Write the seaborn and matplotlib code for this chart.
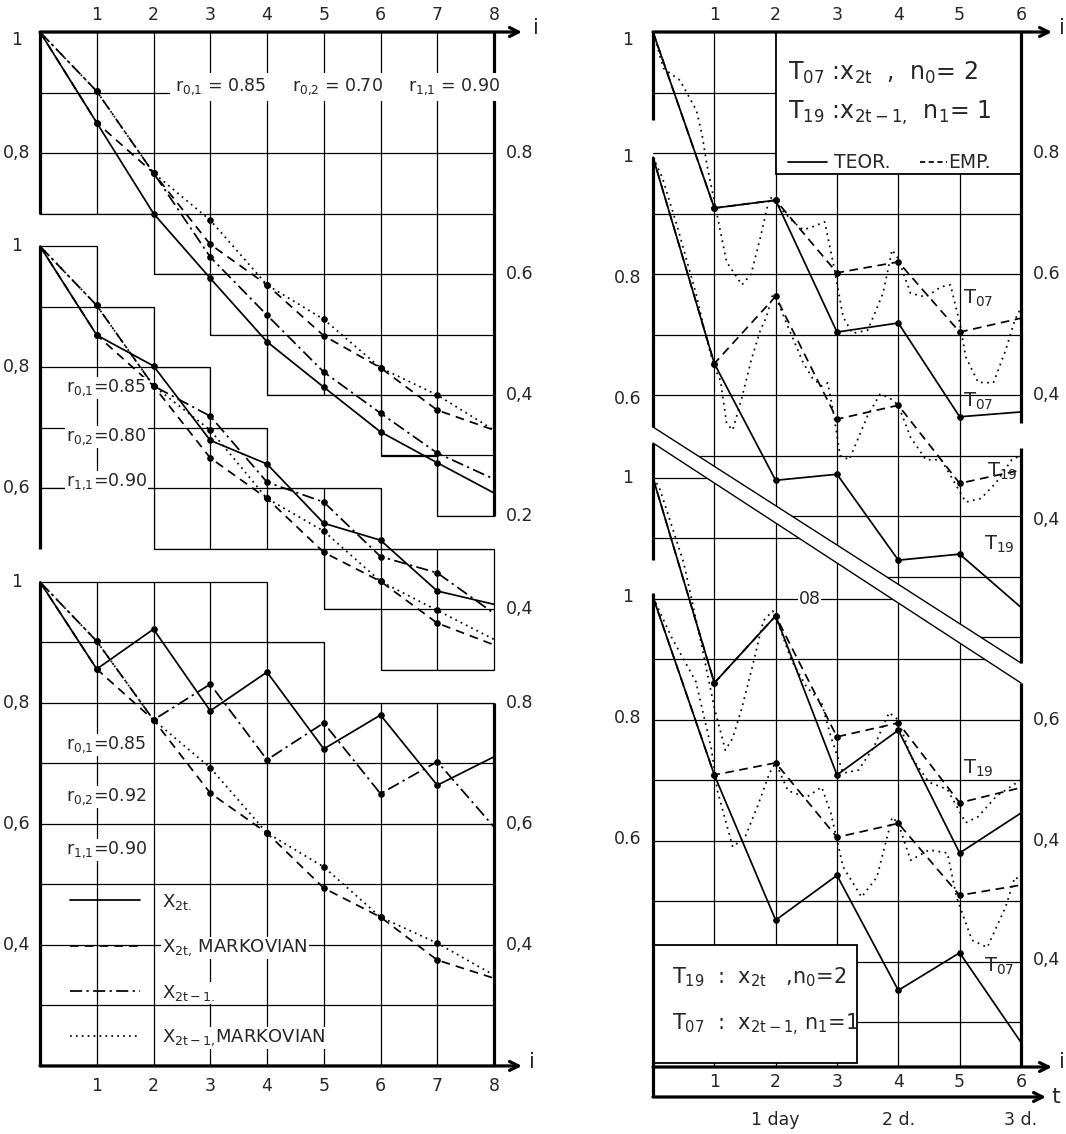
import numpy as np
import matplotlib
matplotlib.use("Agg")
import matplotlib.pyplot as plt
from matplotlib.patches import Polygon, Rectangle
import seaborn as sns

sns.set_style("white")
plt.rcParams['font.family'] = ['DejaVu Sans']
plt.rcParams['mathtext.fontset'] = 'dejavusans'

# ---------------- left chart: i = 0..8, three blocks (r02 = 0.70 / 0.80 / 0.92)
steps = list(range(9))

top_x2t = [1, 0.850, 0.700, 0.593, 0.488, 0.413, 0.339, 0.288, 0.238]
top_x2t_m = [1, 0.850, 0.767, 0.649, 0.582, 0.498, 0.445, 0.375, 0.342]
top_x2t1 = [1, 0.902, 0.767, 0.628, 0.532, 0.438, 0.370, 0.304, 0.261]
top_x2t1_m = [1, 0.902, 0.767, 0.689, 0.582, 0.525, 0.445, 0.400, 0.342]

mid_x2t = [1, 0.853, 0.802, 0.679, 0.640, 0.542, 0.514, 0.430, 0.408]
mid_x2t_m = [1, 0.853, 0.769, 0.650, 0.583, 0.494, 0.446, 0.377, 0.341]
mid_x2t1 = [1, 0.902, 0.769, 0.719, 0.610, 0.577, 0.487, 0.460, 0.393]
mid_x2t1_m = [1, 0.902, 0.769, 0.696, 0.583, 0.529, 0.446, 0.398, 0.350]

low_x2t = [1, 0.856, 0.922, 0.787, 0.851, 0.724, 0.780, 0.664, 0.711]
low_x2t_m = [1, 0.856, 0.772, 0.651, 0.585, 0.494, 0.446, 0.375, 0.345]
low_x2t1 = [1, 0.902, 0.772, 0.831, 0.706, 0.767, 0.650, 0.703, 0.595]
low_x2t1_m = [1, 0.902, 0.772, 0.693, 0.585, 0.529, 0.446, 0.403, 0.350]

r_labels = {
    'top': ["r$_{0{,}1}$ = 0.85", "r$_{0{,}2}$ = 0.70", "r$_{1{,}1}$ = 0.90"],
    'mid': ["r$_{0{,}1}$=0.85", "r$_{0{,}2}$=0.80", "r$_{1{,}1}$=0.90"],
    'low': ["r$_{0{,}1}$=0.85", "r$_{0{,}2}$=0.92", "r$_{1{,}1}$=0.90"],
}
legend_labels = ["X$_{\\mathrm{2t.}}$", "X$_{\\mathrm{2t{,}}}$ MARKOVIAN",
                 "X$_{\\mathrm{2t-1.}}$", "X$_{\\mathrm{2t-1{,}}}$MARKOVIAN"]

lt_text = ["1", "0,8", "1", "0,8", "0,6", "1", "0,8", "0,6", "0,4"]
lt_value = [1, 0.8, 1, 0.8, 0.6, 1, 0.8, 0.6, 0.4]
lt_block = ['top', 'top', 'mid', 'mid', 'mid', 'low', 'low', 'low', 'low']
rt_text = ["0.8", "0.6", "0,4", "0.2", "0,4", "0.8", "0,6", "0,4"]
rt_value = [0.8, 0.6, 0.4, 0.2, 0.4, 0.8, 0.6, 0.4]
rt_block = ['top', 'top', 'top', 'top', 'mid', 'low', 'low', 'low']

# ---------------- right chart: i = 0..6 (t in days), four curve groups
days = list(range(7))

a1_teor = [1, 0.709, 0.722, 0.504, 0.519, 0.364, 0.372]
a1_emp = [1, 0.709, 0.722, 0.602, 0.620, 0.504, 0.527]
a1_obs_t = [0, 0.17, 0.44, 0.71, 0.8, 0.88, 1.0, 1.2, 1.45, 1.6, 1.75, 1.9, 2.0, 2.1, 2.3,
            2.45, 2.6, 2.8, 2.95, 3.1, 3.25, 3.5, 3.75, 3.9, 4.0, 4.2, 4.45, 4.7, 4.85,
            5.0, 5.1, 5.3, 5.55, 5.75, 5.9, 6.0]
a1_obs_v = [1, 0.94, 0.92, 0.87, 0.83, 0.78, 0.72, 0.62, 0.582, 0.60, 0.66, 0.727, 0.722,
            0.706, 0.685, 0.673, 0.678, 0.686, 0.612, 0.529, 0.502, 0.507, 0.568, 0.64,
            0.625, 0.568, 0.562, 0.579, 0.582, 0.52, 0.463, 0.421, 0.42, 0.474, 0.524, 0.544]

a2_teor = [1, 0.659, 0.466, 0.476, 0.334, 0.344, 0.256]
a2_emp = [1, 0.659, 0.770, 0.567, 0.590, 0.461, 0.483]
a2_obs_t = [0, 0.15, 0.4, 0.7, 0.85, 1.0, 1.1, 1.2, 1.3, 1.45, 1.6, 1.75, 1.85, 1.95, 2.0,
            2.2, 2.45, 2.6, 2.75, 2.85, 2.95, 3.05, 3.2, 3.5, 3.7, 3.85, 4.0, 4.2, 4.45,
            4.7, 4.85, 5.1, 5.35, 5.6, 5.85, 6.0]
a2_obs_v = [1, 0.967, 0.884, 0.775, 0.709, 0.653, 0.631, 0.56, 0.549, 0.603, 0.664, 0.714,
            0.736, 0.772, 0.770, 0.72, 0.66, 0.635, 0.622, 0.627, 0.573, 0.507, 0.50,
            0.573, 0.608, 0.603, 0.59, 0.537, 0.50, 0.50, 0.474, 0.43, 0.436, 0.463, 0.50, 0.507]

b1_teor = [1, 0.661, 0.772, 0.509, 0.583, 0.380, 0.446]
b1_emp = [1, 0.661, 0.772, 0.572, 0.595, 0.463, 0.488]
b1_obs_t = [0, 0.1, 0.5, 0.8, 1.0, 1.18, 1.3, 1.45, 1.6, 1.8, 1.95, 2.0, 2.25, 2.5, 2.75,
            2.9, 3.1, 3.35, 3.6, 3.85, 4.0, 4.2, 4.5, 4.8, 5.1, 5.3, 5.6, 6.0]
b1_obs_v = [1, 0.985, 0.86, 0.72, 0.62, 0.55, 0.57, 0.62, 0.68, 0.764, 0.78, 0.772, 0.70,
            0.655, 0.628, 0.572, 0.512, 0.517, 0.555, 0.612, 0.60, 0.54, 0.497, 0.485,
            0.43, 0.44, 0.474, 0.501]

b2_teor = [1, 0.706, 0.466, 0.540, 0.350, 0.412, 0.264]
b2_emp = [1, 0.706, 0.726, 0.603, 0.626, 0.507, 0.524]
b2_obs_t = [0, 0.3, 0.7, 0.95, 1.05, 1.3, 1.5, 1.7, 1.9, 2.0, 2.2, 2.5, 2.75, 2.9, 3.1,
            3.4, 3.65, 3.9, 4.0, 4.2, 4.5, 4.8, 4.95, 5.2, 5.45, 5.75, 5.9, 6.0]
b2_obs_v = [1, 0.934, 0.86, 0.75, 0.68, 0.587, 0.603, 0.653, 0.709, 0.726, 0.68, 0.669,
            0.686, 0.643, 0.554, 0.504, 0.537, 0.636, 0.626, 0.565, 0.582, 0.577, 0.504,
            0.433, 0.421, 0.488, 0.537, 0.532]

rl_text = ["1", "1", "0.8", "0.6", "1", "1", "0.8", "0.6"]
rl_value = [1, 1, 0.8, 0.6, 1, 1, 0.8, 0.6]
rl_block = ['a1', 'a2', 'a2', 'a2', 'b1', 'b2', 'b2', 'b2']
rr_text = ["0.8", "0.6", "0,4", "0,4", "0,6", "0,4", "0,4"]
rr_value = [0.8, 0.6, 0.4, 0.4, 0.6, 0.4, 0.4]
rr_block = ['a1', 'a1', 'a1', 'a2', 'b1', 'b1', 'b2']

curve_tags = [("T$_{07}$", 'a1', 5.05, 0.56), ("T$_{07}$", 'a1', 5.05, 0.39),
              ("T$_{19}$", 'a2', 5.45, 0.48), ("T$_{19}$", 'a2', 5.4, 0.36),
              ("T$_{19}$", 'b1', 5.05, 0.52), ("T$_{07}$", 'b2', 5.4, 0.39)]

# ---------------- layout (pixels of the 1066x1134 picture)
W, H = 1066, 1134
PX = 605.0                      # pixels per unit of value
OFF_L = {'top': 0.0, 'mid': 0.354, 'low': 0.909}
OFF_R = {'a1': 0.0, 'a2': 0.207, 'b1': 0.737, 'b2': 0.934}
TOP_NUDGE = 8 / PX              # the topmost "1" labels sit a little under the axis


def lx(px):
    return (px - 40) / 56.75


def rx(px):
    return (px - 653) / 61.33


def gy(py):
    return 1 - (py - 32) / PX


K = 'black'
GRID_LW, THICK, CURVE_LW = 0.9, 2.3, 1.25
LS_LEFT = ['-', (0, (5, 3.5)), (0, (7, 2.5, 1.3, 2.5)), (0, (1, 2.4))]
LS_TEOR, LS_EMP, LS_OBS = '-', (0, (5, 3.2)), (0, (1, 2.6))


def curve(ax, x, v, off, ls, marks=None):
    sns.lineplot(x=np.asarray(x, float), y=np.asarray(v, float) - off, ax=ax,
                 color=K, lw=CURVE_LW, linestyle=ls,
                 marker='o' if marks else None, markevery=marks,
                 ms=4, mec=K, mfc=K, zorder=5)


def grid_block(ax, outline, xs, ys, edge=True):
    patch = Polygon(outline, closed=True, fc='none',
                    ec=K if edge else 'none', lw=GRID_LW, zorder=2)
    ax.add_patch(patch)
    xa = [p[0] for p in outline]
    ya = [p[1] for p in outline]
    for x in xs:
        ln, = ax.plot([x, x], [min(ya), max(ya)], color=K, lw=GRID_LW, zorder=2)
        ln.set_clip_path(patch)
    for y in ys:
        ln, = ax.plot([min(xa), max(xa)], [y, y], color=K, lw=GRID_LW, zorder=2)
        ln.set_clip_path(patch)


def put(ax, x, y, s, size=12, ha='center', va='center', box=False, pad=0.6):
    kw = {'bbox': dict(fc='white', ec='none', pad=pad)} if box else {}
    ax.text(x, y, s, fontsize=size, ha=ha, va=va, zorder=6, **kw)


def arrow(ax, x0, x1, y):
    ax.annotate('', xy=(x1, y), xytext=(x0, y),
                arrowprops=dict(arrowstyle='->', lw=THICK, color=K,
                                shrinkA=0, shrinkB=0, mutation_scale=16), zorder=6)


fig = plt.figure(figsize=(W / 100, H / 100), dpi=100)
axL = fig.add_axes([0, 0, 580 / W, 1])
axR = fig.add_axes([590 / W, 0, (W - 590) / W, 1])

# ================= LEFT CHART =================
top_outline = [(0, 1), (8, 1), (8, 0.2), (7, 0.2), (7, 0.3), (6, 0.3), (6, 0.4), (4, 0.4),
               (4, 0.5), (3, 0.5), (3, 0.6), (2, 0.6), (2, 0.7), (0, 0.7)]
mid_outline = [(0, 1), (1, 1), (1, 0.9), (2, 0.9), (2, 0.8), (3, 0.8), (3, 0.7), (4, 0.7),
               (4, 0.6), (6, 0.6), (6, 0.5), (8, 0.5), (8, 0.3), (6, 0.3), (6, 0.4),
               (5, 0.4), (5, 0.5), (2, 0.5), (2, 0.6), (0, 0.6)]
low_outline = [(0, 1), (4, 1), (4, 0.9), (5, 0.9), (5, 0.8), (8, 0.8), (8, 0.2), (0, 0.2)]

for name, outline in [('top', top_outline), ('mid', mid_outline), ('low', low_outline)]:
    off = OFF_L[name]
    grid_block(axL, [(x, v - off) for x, v in outline], range(1, 8),
               [v - off for v in np.arange(0.9, 0.15, -0.1)])

# the 0.9 rule of the top block is left out behind the r-values
axL.add_patch(Rectangle((lx(170), gy(97)), lx(490) - lx(170), gy(78) - gy(97),
                        fc='white', ec='none', zorder=2.5))

for hi, lo, name in [(1.0, 0.7, 'top'), (1.0, 0.5, 'mid'), (1.0, 0.2, 'low')]:
    axL.plot([0, 0], [hi - OFF_L[name], lo - OFF_L[name]], color=K, lw=THICK, zorder=6,
             solid_capstyle='butt')
for hi, lo, name in [(1.0, 0.2, 'top'), (0.8, 0.2, 'low')]:
    axL.plot([8, 8], [hi - OFF_L[name], lo - OFF_L[name]], color=K, lw=THICK, zorder=6,
             solid_capstyle='butt')
arrow(axL, 0, lx(522), 1.0)
arrow(axL, 0, lx(522), 0.2 - OFF_L['low'])
put(axL, lx(536), gy(28), "i", 15)
put(axL, lx(532), gy(1062), "i", 15)

blocks = {'top': (top_x2t, top_x2t_m, top_x2t1, top_x2t1_m),
          'mid': (mid_x2t, mid_x2t_m, mid_x2t1, mid_x2t1_m),
          'low': (low_x2t, low_x2t_m, low_x2t1, low_x2t1_m)}
for name, series in blocks.items():
    for vals, ls in zip(series, LS_LEFT):
        curve(axL, steps, vals, OFF_L[name], ls, marks=list(range(1, 8)))

for i in range(1, 9):
    put(axL, i, gy(15), str(i), 12.5)
    put(axL, i, gy(1086), str(i), 12.5)
for s, v, b in zip(lt_text, lt_value, lt_block):
    nudge = TOP_NUDGE if (b == 'top' and v == 1) else 0
    put(axL, lx(17), v - OFF_L[b] - nudge, s, 12.5)
for s, v, b in zip(rt_text, rt_value, rt_block):
    put(axL, lx(520), v - OFF_L[b], s, 12.5)

# r-value annotations
for s, px in zip(r_labels['top'], [175, 292, 408]):
    put(axL, lx(px), gy(87), s, 12.5, ha='left', box=True, pad=3)
for s, py in zip(r_labels['mid'], [388, 437, 482]):
    put(axL, lx(66), gy(py), s, 12.5, ha='left', box=True)
for s, py in zip(r_labels['low'], [745, 797, 850]):
    put(axL, lx(66), gy(py), s, 12.5, ha='left', box=True)

# legend samples
for py, ls, s in zip([900, 946, 991, 1036], LS_LEFT, legend_labels):
    axL.plot([lx(70), lx(140)], [gy(py)] * 2, color=K, lw=CURVE_LW, linestyle=ls, zorder=6)
    put(axL, lx(162), gy(py + 2), s, 13, ha='left', box=True)

# ================= RIGHT CHART =================
band_top = [(0, gy(427)), (6, gy(663))]
band_bot = [(0, gy(443)), (6, gy(683))]
grid_block(axR, [(0, 1), (6, 1), band_top[1], band_top[0]], range(1, 6),
           [1 - 0.1 * k for k in range(1, 13)], edge=False)
grid_block(axR, [band_bot[0], band_bot[1], (6, gy(1067)), (0, gy(1067))], range(1, 6),
           [v - OFF_R['b1'] for v in np.arange(1.0, 0.0, -0.1)], edge=False)
axR.add_patch(Polygon(band_top + band_bot[::-1], closed=True, fc='white', ec='none', zorder=3))
for seg in (band_top, band_bot):
    axR.plot([p[0] for p in seg], [p[1] for p in seg], color=K, lw=1.0, zorder=4)

axR.add_patch(Rectangle((2, gy(174)), 4, gy(32) - gy(174), fc='white', ec=K, lw=1.3, zorder=4))
axR.add_patch(Rectangle((0, gy(1063)), rx(857), gy(945) - gy(1063), fc='white', ec=K,
                        lw=1.3, zorder=4))

for p0, p1 in [(32, 120), (157, 427), (443, 560), (593, 1097)]:
    axR.plot([0, 0], [gy(p0), gy(p1)], color=K, lw=THICK, zorder=6, solid_capstyle='butt')
for p0, p1 in [(32, 423), (448, 663), (683, 1067)]:
    axR.plot([6, 6], [gy(p0), gy(p1)], color=K, lw=THICK, zorder=6, solid_capstyle='butt')
arrow(axR, 0, rx(1052), 1.0)
arrow(axR, 0, rx(1052), gy(1067))
arrow(axR, 0, rx(1046), gy(1097))
put(axR, rx(1062), gy(28), "i", 15)
put(axR, rx(1062), gy(1062), "i", 15)
put(axR, rx(1056), gy(1097), "t", 16)

groups = {'a1': (a1_teor, a1_emp, a1_obs_t, a1_obs_v),
          'a2': (a2_teor, a2_emp, a2_obs_t, a2_obs_v),
          'b1': (b1_teor, b1_emp, b1_obs_t, b1_obs_v),
          'b2': (b2_teor, b2_emp, b2_obs_t, b2_obs_v)}
for name, (teor, emp, obs_t, obs_v) in groups.items():
    off = OFF_R[name]
    curve(axR, obs_t, obs_v, off, LS_OBS)
    curve(axR, days, emp, off, LS_EMP, marks=list(range(1, 6)))
    curve(axR, days, teor, off, LS_TEOR, marks=list(range(1, 6)))

for i in range(1, 7):
    put(axR, i, gy(15), str(i), 12.5)
    put(axR, i, gy(1082), str(i), 12.5)
for s, i in [("1 day", 2), ("2 d.", 4), ("3 d.", 6)]:
    put(axR, i, gy(1120), s, 12.5)
for s, v, b in zip(rl_text, rl_value, rl_block):
    nudge = TOP_NUDGE if (b == 'a1' and v == 1) else 0
    put(axR, rx(628), v - OFF_R[b] - nudge, s, 12.5)
for s, v, b in zip(rr_text, rr_value, rr_block):
    put(axR, rx(1047), v - OFF_R[b], s, 12.5)
put(axR, 2.55, 0.8 - OFF_R['b1'], "08", 12.5, box=True)
for s, b, x, v in curve_tags:
    put(axR, x, v - OFF_R[b], s, 14, ha='left')

# legend texts
put(axR, rx(788), gy(73), "T$_{07}$ :x$_{\\mathrm{2t}}$  ,  n$_0$= 2", 17, ha='left')
put(axR, rx(788), gy(113), "T$_{19}$ :x$_{\\mathrm{2t-1{,}}}$  n$_1$= 1", 17, ha='left')
axR.plot([rx(788), rx(827)], [gy(162)] * 2, color=K, lw=CURVE_LW, zorder=6)
put(axR, rx(834), gy(162), "TEOR.", 13.5, ha='left')
axR.plot([rx(920), rx(947)], [gy(162)] * 2, color=K, lw=CURVE_LW, linestyle=(0, (3, 2)), zorder=6)
put(axR, rx(948), gy(162), "EMP.", 13.5, ha='left')
put(axR, rx(672), gy(977), "T$_{19}$  :  x$_{\\mathrm{2t}}$   ,n$_0$=2", 15, ha='left')
put(axR, rx(672), gy(1025), "T$_{07}$  :  x$_{\\mathrm{2t-1{,}}}$ n$_1$=1", 15, ha='left')

axL.set_xlim(lx(0), lx(580))
axR.set_xlim(rx(590), rx(W))
for ax in (axL, axR):
    ax.set_ylim(gy(H), gy(0))
    ax.axis('off')

fig.savefig("out.png", dpi=100, facecolor='white')
